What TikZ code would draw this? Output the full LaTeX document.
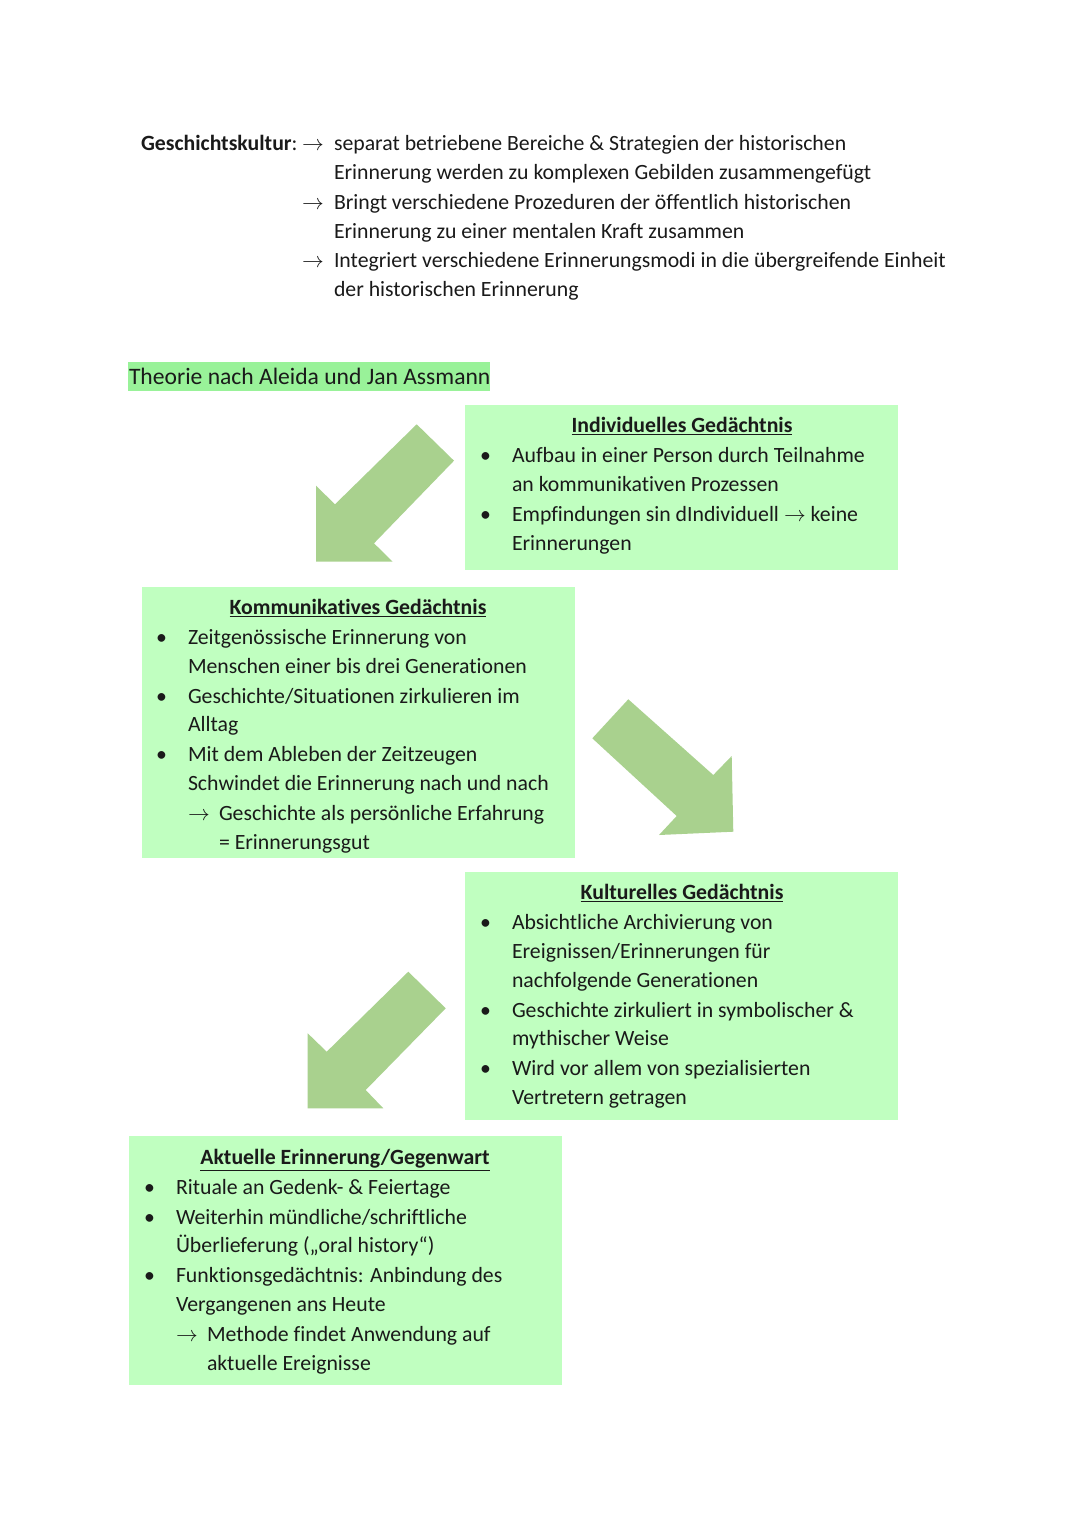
\documentclass[tikz,border=0pt]{standalone}
\usepackage{fontspec}
\setmainfont{Carlito}[Ligatures=NoCommon]
\definecolor{boxgreen}{HTML}{C0FFC0}
\definecolor{titlegreen}{HTML}{99F299}
\definecolor{arrowgreen}{HTML}{A9D18E}
\definecolor{ink}{HTML}{1A1A1A}
\begin{document}
\begin{tikzpicture}[x=0.5512pt,y=-0.5512pt,
  every node/.style={inner sep=0pt, outer sep=0pt, text=ink, font=\fontsize{12}{16}\selectfont},
  txt/.style={anchor=base west},
  head/.style={anchor=base, font=\fontsize{12}{16}\selectfont\bfseries},
  boxfill/.style={fill=boxgreen},
  blockarrow/.style={fill=arrowgreen}]
\useasboundingbox (0,0) rectangle (1080,1527);
\fill[white] (0,0) rectangle (1080,1527);

% ---------- top section ----------
\node[txt] (gk) at (141,150) {\textbf{Geschichtskultur}:};
\node[txt] (a1) at (302,150) {$\rightarrow$};
\node[txt] (t1) at (334,150) {separat betriebene Bereiche \& Strategien der historischen};
\node[txt] (t2) at (334,179) {Erinnerung werden zu komplexen Gebilden zusammengefügt};
\node[txt] (a2) at (302,209) {$\rightarrow$};
\node[txt] (t3) at (334,209) {Bringt verschiedene Prozeduren der öffentlich historischen};
\node[txt] (t4) at (334,238) {Erinnerung zu einer mentalen Kraft zusammen};
\node[txt] (a3) at (302,267) {$\rightarrow$};
\node[txt] (t5) at (334,267) {Integriert verschiedene Erinnerungsmodi in die übergreifende Einheit};
\node[txt] (t6) at (334,296) {der historischen Erinnerung};

% ---------- title ----------
\fill[titlegreen] (128,362) rectangle (490,391);
\node[txt, font=\fontsize{13}{16}\selectfont] (title) at (129,384) {Theorie nach Aleida und Jan Assmann};

% ---------- boxes ----------
\fill[boxfill] (465,405) rectangle (898,570);
\fill[boxfill] (142,587) rectangle (575,858);
\fill[boxfill] (465,872) rectangle (898,1120);
\fill[boxfill] (129,1136) rectangle (562,1385);

% ---------- block arrows ----------
\fill[blockarrow] (416.7,424.3) -- (454,460.7) -- (374,543.3) -- (392.7,561.7)
  -- (316,561.7) -- (316,485.7) -- (335,504.3) -- cycle;
\fill[blockarrow] (628.3,699.3) -- (592.3,738.3) -- (676.7,816) -- (659,835)
  -- (733.3,831.7) -- (731.7,756) -- (713.3,775) -- cycle;
\fill[blockarrow] (408.3,971.7) -- (445.7,1008.3) -- (365.7,1090) -- (383.3,1108.3)
  -- (307.7,1108.3) -- (307.7,1033.3) -- (326.7,1051.7) -- cycle;

% ---------- Individuelles Gedächtnis ----------
\node[head] (ih) at (682,432) {\underline{Individuelles Gedächtnis}};
\node[txt] (ib1) at (480,462) {\textbullet};
\node[txt] (i1) at (512,462) {Aufbau in einer Person durch Teilnahme};
\node[txt] (i2) at (512,491) {an kommunikativen Prozessen};
\node[txt] (ib2) at (480,521) {\textbullet};
\node[txt] (i3) at (512,521) {Empfindungen sin dIndividuell $\rightarrow$ keine};
\node[txt] (i4) at (512,550) {Erinnerungen};

% ---------- Kommunikatives Gedächtnis ----------
\node[head] (kh) at (358,614) {\underline{Kommunikatives Gedächtnis}};
\node[txt] (kb1) at (156,644) {\textbullet};
\node[txt] (k1) at (188,644) {Zeitgenössische Erinnerung von};
\node[txt] (k2) at (188,673) {Menschen einer bis drei Generationen};
\node[txt] (kb2) at (156,703) {\textbullet};
\node[txt] (k3) at (188,703) {Geschichte/Situationen zirkulieren im};
\node[txt] (k4) at (188,731) {Alltag};
\node[txt] (kb3) at (156,761) {\textbullet};
\node[txt] (k5) at (188,761) {Mit dem Ableben der Zeitzeugen};
\node[txt] (k6) at (188,790) {Schwindet die Erinnerung nach und nach};
\node[txt] (ka) at (188,820) {$\rightarrow$};
\node[txt] (k7) at (219,820) {Geschichte als persönliche Erfahrung};
\node[txt] (k8) at (219,849) {= Erinnerungsgut};

% ---------- Kulturelles Gedächtnis ----------
\node[head] (ch) at (682,899) {\underline{Kulturelles Gedächtnis}};
\node[txt] (cb1) at (480,929) {\textbullet};
\node[txt] (c1) at (512,929) {Absichtliche Archivierung von};
\node[txt] (c2) at (512,958) {Ereignissen/Erinnerungen für};
\node[txt] (c3) at (512,987) {nachfolgende Generationen};
\node[txt] (cb2) at (480,1017) {\textbullet};
\node[txt] (c4) at (512,1017) {Geschichte zirkuliert in symbolischer \&};
\node[txt] (c5) at (512,1045) {mythischer Weise};
\node[txt] (cb3) at (480,1075) {\textbullet};
\node[txt] (c6) at (512,1075) {Wird vor allem von spezialisierten};
\node[txt] (c7) at (512,1104) {Vertretern getragen};

% ---------- Aktuelle Erinnerung ----------
\node[head] (ah) at (345,1164) {\underline{Aktuelle Erinnerung/Gegenwart}};
\node[txt] (ab1) at (144,1194) {\textbullet};
\node[txt] (e1) at (176,1194) {Rituale an Gedenk- \& Feiertage};
\node[txt] (ab2) at (144,1224) {\textbullet};
\node[txt] (e2) at (176,1224) {Weiterhin mündliche/schriftliche};
\node[txt] (e3) at (176,1252) {Überlieferung („oral history“)};
\node[txt] (ab3) at (144,1282) {\textbullet};
\node[txt] (e4) at (176,1282) {Funktionsgedächtnis: Anbindung des};
\node[txt] (e5) at (176,1311) {Vergangenen ans Heute};
\node[txt] (ea) at (176,1341) {$\rightarrow$};
\node[txt] (e6) at (207,1341) {Methode findet Anwendung auf};
\node[txt] (e7) at (207,1370) {aktuelle Ereignisse};
\end{tikzpicture}
\end{document}
